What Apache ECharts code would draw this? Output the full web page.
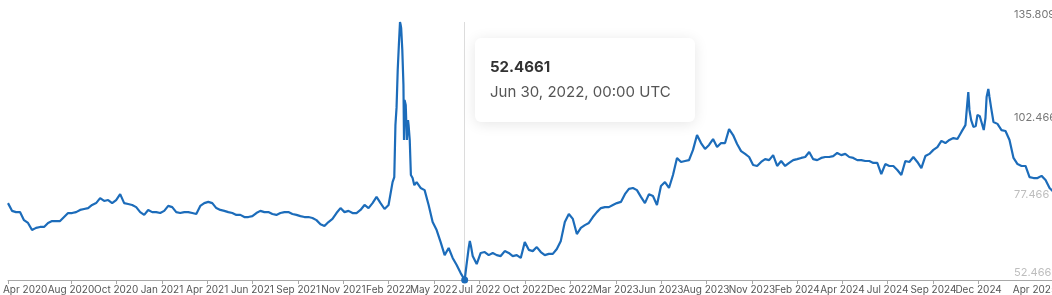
<!DOCTYPE html>
<html>
<head>
<meta charset="utf-8">
<script src="https://cdn.jsdelivr.net/npm/echarts@6/dist/echarts.min.js"></script>
<style>
html,body{margin:0;padding:0;overflow:hidden;background:#fff;width:1052px;height:295px}
#chart{width:1060px;height:295px}
</style>
</head>
<body>
<div id="chart"></div>
<script>
// ---- data (weekly closes from startDate, plus a few extra daily readings) ----
const startDate = '2020-04-23';
const stepDays = 7;
const weeklyValues = [
  77.3, 74.8, 74.4, 74.4, 71.8, 70.9, 68.6, 69.3, 69.6, 69.6,
  70.9, 71.5, 71.5, 71.5, 72.8, 74.1, 74.1, 74.4, 75.1, 75.4,
  75.7, 76.7, 77.3, 78.9, 78.0, 78.3, 77.3, 78.3, 80.2, 77.3,
  77.0, 76.7, 76.0, 74.4, 73.5, 75.1, 74.4, 74.4, 74.1, 74.8,
  76.4, 76.0, 74.4, 74.1, 74.4, 74.4, 74.1, 73.8, 76.4, 77.3,
  77.7, 77.3, 75.7, 75.1, 74.8, 74.4, 74.1, 73.5, 73.5, 72.8,
  72.8, 73.1, 74.1, 74.8, 74.4, 74.4, 73.8, 73.5, 74.1, 74.4,
  74.4, 73.8, 73.5, 73.1, 72.8, 72.8, 72.5, 71.8, 70.5, 69.9,
  71.2, 72.2, 74.1, 75.7, 74.4, 74.8, 74.1, 74.1, 75.1, 76.7,
  75.7, 77.3, 79.3, 77.3, 75.4, 76.7, 84.1, 108.3, 135.0, 110.6,
  102.5, 85.4, 84.1, 82.2, 81.5, 76.7, 71.2, 68.6, 64.7, 60.5,
  62.8, 59.6, 57.3, 54.7, 52.4661, 62.8, 60.2, 57.6, 61.2, 61.5,
  60.5, 61.2, 60.5, 60.2, 61.8, 61.2, 60.2, 60.5, 59.6, 64.7,
  62.2, 61.8, 63.1, 61.5, 60.5, 60.9, 60.9, 62.5, 65.1, 71.2,
  73.8, 72.2, 67.3, 69.3, 70.2, 70.9, 72.8, 74.4, 75.7, 76.0,
  76.0, 76.7, 77.3, 77.7, 80.2, 81.9, 82.2, 81.5, 79.3, 77.3,
  80.2, 79.6, 76.7, 82.8, 84.1, 82.2, 86.4, 91.9, 90.6, 90.9,
  91.2, 94.5, 99.3, 96.7, 94.8, 96.1, 98.0, 95.4, 96.7, 96.7,
  101.2, 99.3, 96.4, 94.1, 93.2, 92.2, 89.6, 89.3, 90.6, 91.5,
  91.2, 92.8, 89.3, 90.9, 89.3, 90.3, 91.2, 91.5, 91.9, 92.2,
  93.8, 91.5, 91.2, 91.9, 92.2, 92.2, 92.5, 93.5, 92.8, 93.2,
  92.2, 91.9, 91.2, 91.2, 90.9, 90.9, 90.3, 90.3, 86.7, 89.9,
  89.3, 89.3, 88.0, 86.4, 90.9, 90.6, 92.2, 90.6, 88.6, 92.5,
  93.2, 94.5, 95.4, 97.4, 96.7, 97.7, 98.3, 98.0, 100.3, 102.5,
  107.4, 101.9, 105.8, 103.5, 104.8, 111.6, 103.5, 102.9, 100.9, 100.6,
  97.7, 91.9, 89.9, 89.3, 89.3, 85.7, 85.4, 85.4, 86.1, 84.8,
  82.2, 80.9
];
const detailDates = [
  '2022-02-27','2022-03-01','2022-03-05','2022-03-07','2022-03-09','2022-03-11',
  '2022-03-13','2022-03-15','2022-03-16','2022-03-19','2022-03-21','2022-03-23',
  '2022-03-26','2022-03-28','2022-04-03','2022-07-03','2022-07-09','2022-07-11',
  '2024-11-24','2024-11-26','2024-12-01','2024-12-09','2024-12-16','2024-12-23',
  '2024-12-28','2024-12-31','2025-01-05'
];
const detailValues = [
  85.7, 102.5, 120.3, 128.4, 135.809, 133.9,
  126.8, 115.5, 97.7, 109.0, 97.7, 104.1,
  97.7, 86.4, 83.1, 57.0, 65.1, 63.4,
  109.0, 113.2, 104.1, 102.2, 105.4, 100.9,
  111.6, 114.2, 108.0
];
const axisStart = '2020-04-23';
const axisEnd = '2025-04-30';
const xTickDates = [
  '2020-04-23','2020-08-11','2020-10-29','2021-01-17','2021-04-06','2021-06-24',
  '2021-09-12','2021-11-30','2022-02-17','2022-05-07','2022-07-26','2022-10-13',
  '2022-12-31','2023-03-21','2023-06-08','2023-08-26','2023-11-14','2024-02-01',
  '2024-04-20','2024-07-08','2024-09-26','2024-12-14','2025-04-30'
];
const xTickLabels = [
  'Apr 2020','Aug 2020','Oct 2020','Jan 2021','Apr 2021','Jun 2021',
  'Sep 2021','Nov 2021','Feb 2022','May 2022','Jul 2022','Oct 2022',
  'Dec 2022','Mar 2023','Jun 2023','Aug 2023','Nov 2023','Feb 2024',
  'Apr 2024','Jul 2024','Sep 2024','Dec 2024','Apr 2025'
];
// the first label is drawn a little right of its tick so it stays inside the chart
const firstLabelDate = '2020-05-23';
const yTickLabels = ['52.466', '77.466', '102.466', '135.809'];
const yTickStrong = ['135.809', '102.466'];
const tooltipDate = '2022-06-30';

// ---- helpers ----
const MONTHS = ['Jan','Feb','Mar','Apr','May','Jun','Jul','Aug','Sep','Oct','Nov','Dec'];
function ts(s) { const p = s.split('-').map(Number); return Date.UTC(p[0], p[1] - 1, p[2]); }
const DAY = 86400000;

const points = [];
const t0 = ts(startDate);
weeklyValues.forEach((v, i) => points.push([t0 + i * stepDays * DAY, v]));
detailDates.forEach((d, i) => points.push([ts(d), detailValues[i]]));
points.sort((a, b) => a[0] - b[0]);

const tipT = ts(tooltipDate);
const tipPoint = points.find(p => p[0] === tipT);
const tipDateObj = new Date(tipT);
const pad2 = n => String(n).padStart(2, '0');
const tipValueText = String(tipPoint[1]);
const tipDateText = MONTHS[tipDateObj.getUTCMonth()] + ' ' + tipDateObj.getUTCDate() + ', ' +
  tipDateObj.getUTCFullYear() + ', ' + pad2(tipDateObj.getUTCHours()) + ':' + pad2(tipDateObj.getUTCMinutes()) + ' UTC';

const yNums = yTickLabels.map(Number);
const xTicks = xTickDates.map(ts);
const xLabelPos = xTicks.slice();
xLabelPos[0] = ts(firstLabelDate);

const chart = echarts.init(document.getElementById('chart'), null, { renderer: 'canvas' });
chart.setOption({
  animation: false,
  backgroundColor: '#fff',
  grid: { left: 7, right: 0, top: 22, bottom: 15, containLabel: false },
  xAxis: {
    type: 'value',
    min: ts(axisStart),
    max: ts(axisEnd),
    axisLine: { show: true, lineStyle: { color: '#a8a8a8', width: 1 } },
    axisTick: { show: true, length: 4, lineStyle: { color: '#a8a8a8' }, customValues: xTicks },
    splitLine: { show: false },
    axisLabel: {
      customValues: xLabelPos,
      margin: 5,
      color: '#555',
      fontFamily: 'Inter',
      fontSize: 10,
      showMinLabel: true,
      showMaxLabel: true,
      hideOverlap: false,
      alignMaxLabel: 'right',
      formatter: function (v) {
        const i = xLabelPos.indexOf(v);
        return i >= 0 ? xTickLabels[i] : '';
      }
    }
  },
  yAxis: {
    type: 'value',
    position: 'right',
    min: yNums[0],
    max: yNums[yNums.length - 1],
    axisLine: { show: false },
    axisTick: { show: false },
    splitLine: { show: false },
    axisLabel: {
      customValues: yNums,
      inside: true,
      align: 'left',
      margin: 43,
      verticalAlign: 'bottom',
      padding: [0, 0, 2, 0],
      fontFamily: 'Inter',
      fontSize: 11,
      showMinLabel: true,
      showMaxLabel: true,
      formatter: function (v) {
        const s = Number(v).toFixed(3);
        return yTickStrong.indexOf(s) >= 0 ? '{a|' + s + '}' : '{b|' + s + '}';
      },
      rich: {
        a: { color: '#777', fontFamily: 'Inter', fontSize: 11 },
        b: { color: '#bdbdbd', fontFamily: 'Inter', fontSize: 11 }
      }
    }
  },
  series: [{
    type: 'line',
    data: points,
    showSymbol: false,
    symbol: 'none',
    lineStyle: { color: '#1c6cba', width: 2.2 },
    itemStyle: { color: '#1c6cba' },
    z: 3,
    markLine: {
      silent: true,
      symbol: 'none',
      label: { show: false },
      lineStyle: { color: '#dcdcdc', width: 1, type: 'solid' },
      data: [{ xAxis: tipT }],
      z: 1
    },
    markPoint: {
      silent: true,
      symbol: 'circle',
      symbolSize: 7,
      label: { show: false },
      itemStyle: { color: '#1c6cba' },
      data: [{ coord: [tipT, tipPoint[1]] }]
    }
  }],
  graphic: [{
    type: 'group',
    left: 475,
    top: 38,
    z: 100,
    children: [
      { type: 'rect', shape: { x: 0, y: 0, width: 220, height: 84, r: 6 },
        style: { fill: '#fff', shadowBlur: 14, shadowColor: 'rgba(0,0,0,0.10)', shadowOffsetY: 2 } },
      { type: 'text', x: 15, y: 29,
        style: { text: tipValueText, font: 'bold 15px Inter', fill: '#333', verticalAlign: 'middle' } },
      { type: 'text', x: 15, y: 54,
        style: { text: tipDateText, font: '15px Inter', fill: '#555', verticalAlign: 'middle' } }
    ]
  }]
});
</script>
</body>
</html>
